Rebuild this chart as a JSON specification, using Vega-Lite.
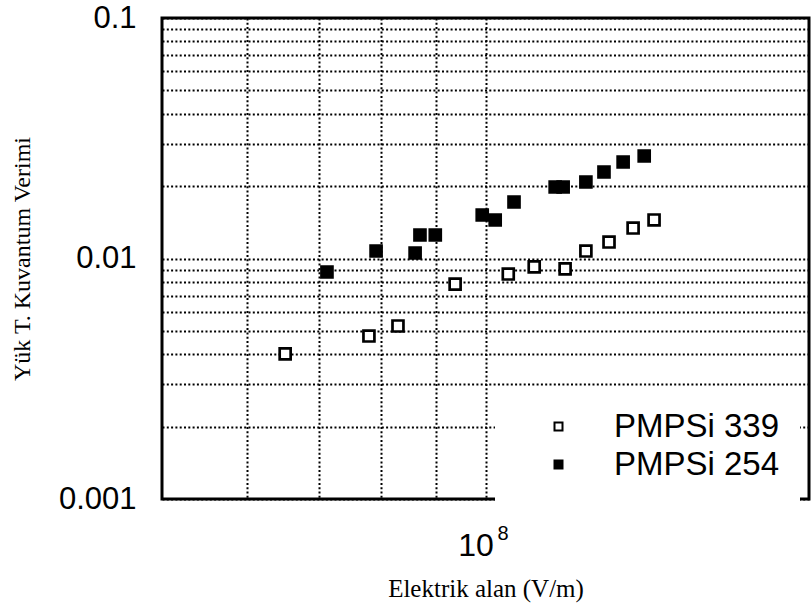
{
  "$schema": "https://vega.github.io/schema/vega-lite/v6.json",
  "width": 647,
  "height": 481,
  "autosize": {"type": "none"},
  "padding": {"left": 162, "top": 18, "right": 2, "bottom": 114},
  "background": "white",
  "config": {
    "view": {"stroke": "black", "strokeWidth": 3},
    "axis": {
      "gridColor": "black",
      "gridDash": [2, 2.3],
      "gridWidth": 2,
      "gridOpacity": 1,
      "domain": false,
      "ticks": false,
      "labelFont": "Liberation Sans",
      "labelColor": "black",
      "labelFlush": false,
      "labelOverlap": false,
      "labelBound": false,
      "titleFont": "Liberation Serif",
      "titleFontWeight": "normal",
      "titleColor": "black",
      "titleFontSize": 25
    }
  },
  "data": {
    "values": [
      {"s": "PMPSi 339", "E": 6.51e7, "q": 0.00401},
      {"s": "PMPSi 339", "E": 7.79e7, "q": 0.00476},
      {"s": "PMPSi 339", "E": 8.29e7, "q": 0.00524},
      {"s": "PMPSi 339", "E": 9.37e7, "q": 0.00783},
      {"s": "PMPSi 339", "E": 1.05e8, "q": 0.00862},
      {"s": "PMPSi 339", "E": 1.11e8, "q": 0.00923},
      {"s": "PMPSi 339", "E": 1.186e8, "q": 0.00905},
      {"s": "PMPSi 339", "E": 1.24e8, "q": 0.01074},
      {"s": "PMPSi 339", "E": 1.303e8, "q": 0.01171},
      {"s": "PMPSi 339", "E": 1.372e8, "q": 0.01339},
      {"s": "PMPSi 339", "E": 1.435e8, "q": 0.01446},
      {"s": "PMPSi 254", "E": 7.12e7, "q": 0.00879},
      {"s": "PMPSi 254", "E": 7.91e7, "q": 0.01074},
      {"s": "PMPSi 254", "E": 8.6e7, "q": 0.01054},
      {"s": "PMPSi 254", "E": 8.69e7, "q": 0.01252},
      {"s": "PMPSi 254", "E": 8.98e7, "q": 0.01252},
      {"s": "PMPSi 254", "E": 9.93e7, "q": 0.01517},
      {"s": "PMPSi 254", "E": 1.021e8, "q": 0.01446},
      {"s": "PMPSi 254", "E": 1.063e8, "q": 0.01717},
      {"s": "PMPSi 254", "E": 1.161e8, "q": 0.01983},
      {"s": "PMPSi 254", "E": 1.181e8, "q": 0.01983},
      {"s": "PMPSi 254", "E": 1.24e8, "q": 0.0208},
      {"s": "PMPSi 254", "E": 1.289e8, "q": 0.0229},
      {"s": "PMPSi 254", "E": 1.343e8, "q": 0.02519},
      {"s": "PMPSi 254", "E": 1.405e8, "q": 0.02668}
    ]
  },
  "encoding": {
    "y": {
      "field": "q",
      "type": "quantitative",
      "scale": {"type": "log", "domain": [0.001, 0.1], "nice": false},
      "axis": {
        "grid": true,
        "values": [0.001, 0.002, 0.003, 0.004, 0.005, 0.006, 0.007, 0.008, 0.009, 0.01, 0.02, 0.03, 0.04, 0.05, 0.06, 0.07, 0.08, 0.09, 0.1],
        "labelExpr": "datum.value == 0.1 ? '0.1' : datum.value == 0.01 ? '0.01' : datum.value == 0.001 ? '0.001' : ''",
        "labelFontSize": 31,
        "labelPadding": 26,
        "labelBaseline": "middle",
        "title": "Yük T. Kuvantum Verimi",
        "titleFontSize": 24,
        "titleX": -140,
        "titleY": 240.5,
        "titleAlign": "center",
        "titleBaseline": "middle"
      }
    },
    "fill": {
      "field": "s",
      "type": "nominal",
      "scale": {"domain": ["PMPSi 339", "PMPSi 254"], "range": ["white", "black"]},
      "legend": {
        "title": null,
        "orient": "none",
        "legendX": 333,
        "legendY": 372,
        "padding": 20,
        "fillColor": "white",
        "strokeColor": null,
        "symbolType": "square",
        "symbolSize": 64,
        "symbolStrokeColor": "black",
        "symbolStrokeWidth": 2,
        "symbolOffset": 27,
        "labelOffset": 39,
        "labelFont": "Liberation Sans",
        "labelFontSize": 33,
        "labelColor": "black",
        "labelLimit": 400,
        "rowPadding": 4
      }
    }
  },
  "layer": [
    {
      "transform": [{"filter": "datum.s == 'PMPSi 339'"}],
      "mark": {"type": "point", "shape": "square", "size": 120, "stroke": "black", "strokeWidth": 2.7, "opacity": 1},
      "encoding": {
        "x": {
          "field": "E",
          "type": "quantitative",
          "scale": {"type": "log", "domain": [5e7, 2e8], "nice": false},
          "axis": {
            "orient": "bottom",
            "grid": true,
            "values": [6e7, 7e7, 8e7, 9e7, 1e8],
            "labelExpr": "datum.value == 1e8 ? '10' : ''",
            "labelFontSize": 32,
            "labelPadding": 31,
            "labelOffset": -10,
            "title": "Elektrik alan (V/m)",
            "titleY": 89,
            "titleBaseline": "middle"
          }
        }
      }
    },
    {
      "transform": [{"filter": "datum.s == 'PMPSi 254'"}],
      "mark": {"type": "point", "shape": "square", "size": 120, "stroke": "black", "strokeWidth": 2.7, "opacity": 1},
      "encoding": {
        "x": {
          "field": "E",
          "type": "quantitative",
          "scale": {"type": "log", "domain": [5e7, 2e8], "nice": false},
          "axis": {
            "orient": "bottom",
            "grid": false,
            "values": [1e8],
            "labelExpr": "'8'",
            "labelFontSize": 20,
            "labelPadding": 24,
            "labelOffset": 17,
            "title": null
          }
        }
      }
    }
  ],
  "resolve": {"axis": {"x": "independent"}}
}
